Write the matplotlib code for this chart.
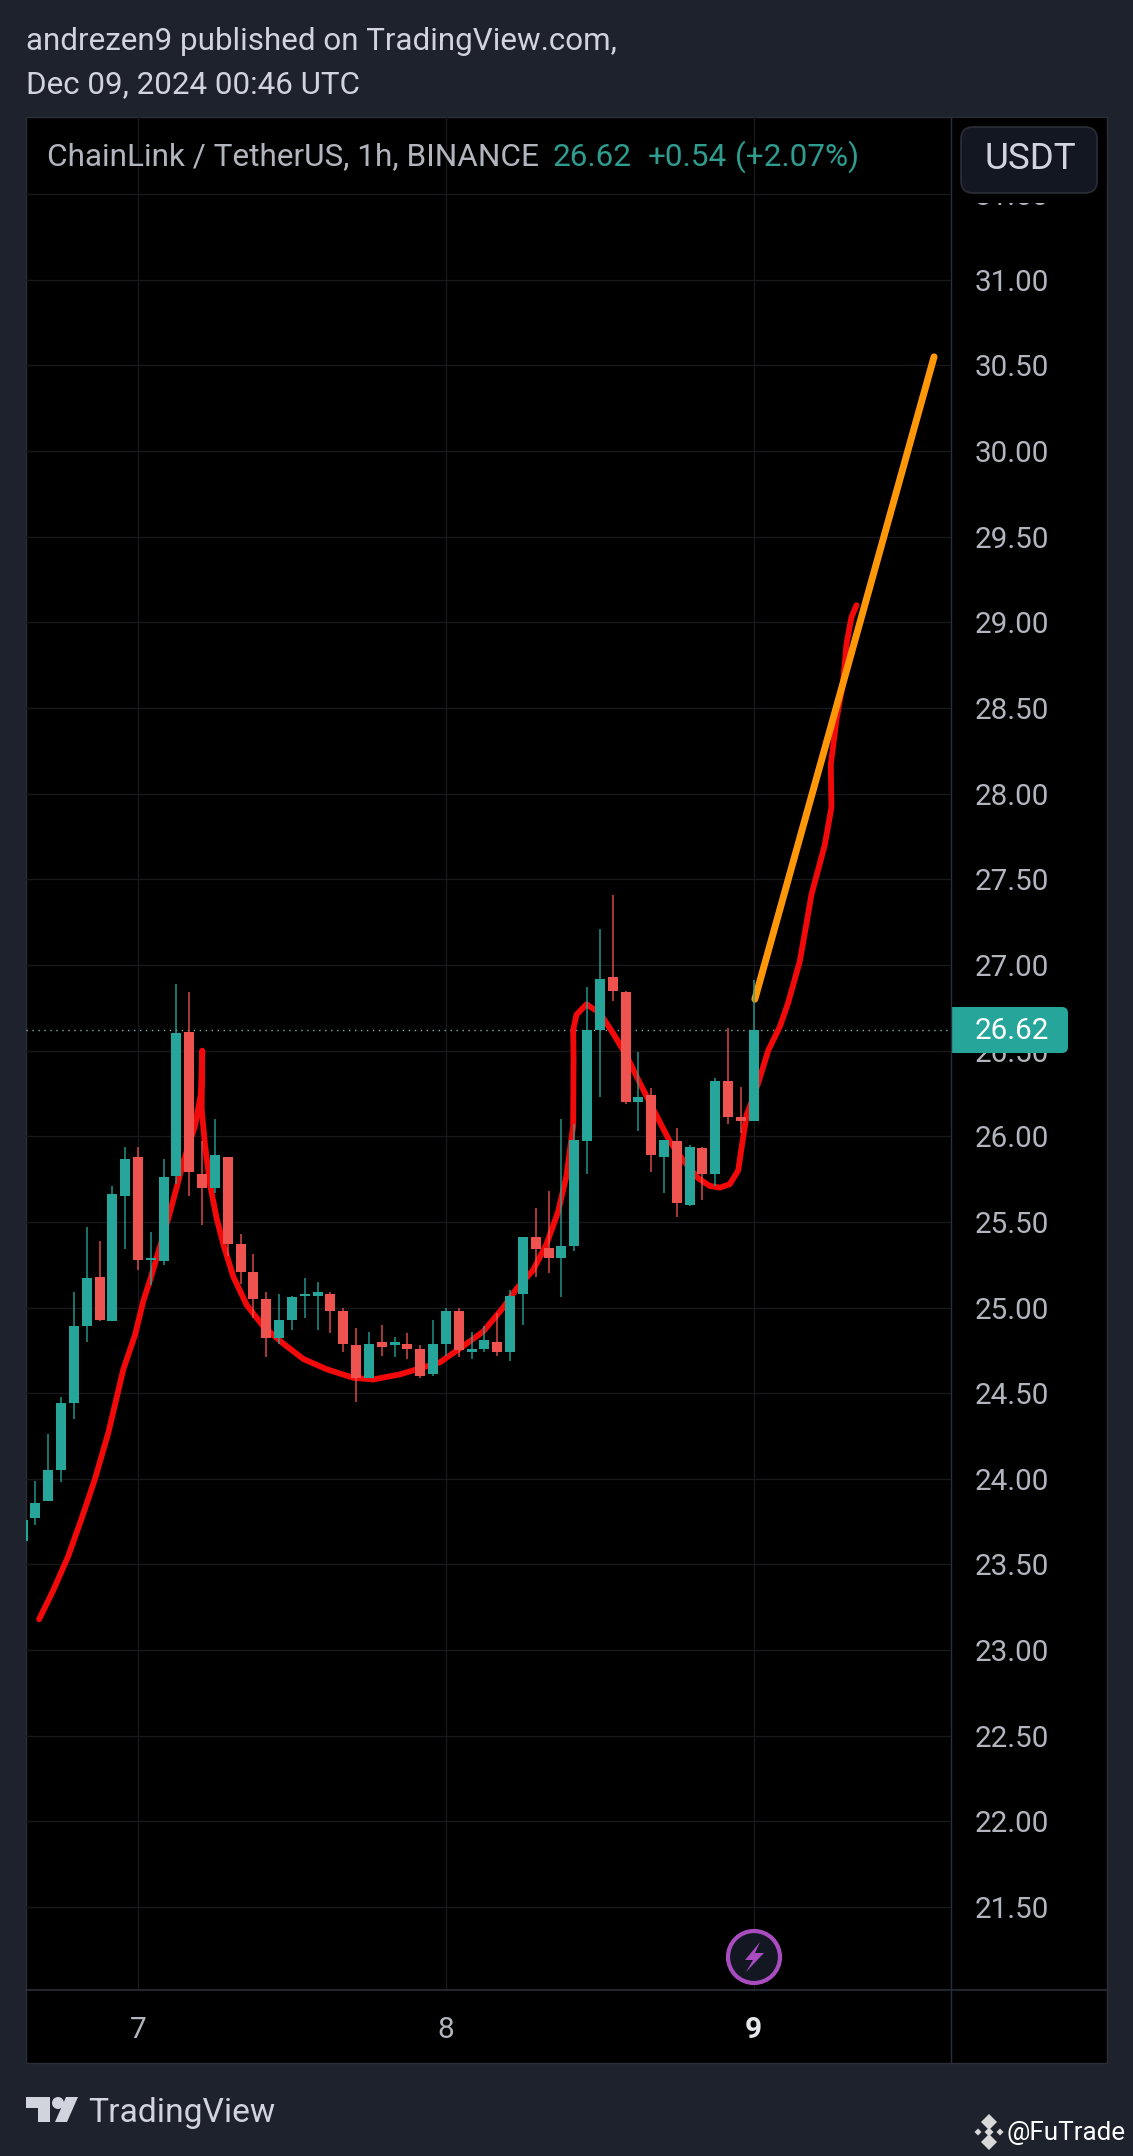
import matplotlib
matplotlib.use("Agg")
import matplotlib.pyplot as plt
from matplotlib.patches import FancyBboxPatch, Rectangle, Circle, Polygon

# ---------- data ----------
hours = list(range(-9, 49))
opens = [23.64, 23.77, 23.87, 24.05, 24.44, 24.89, 25.18, 24.92, 25.65, 25.88,
         25.28, 25.27, 25.77, 26.61, 25.78, 25.70, 25.88, 25.37, 25.21, 25.05,
         24.82, 24.93, 25.07, 25.07, 25.08, 24.98, 24.78, 24.59, 24.80, 24.78,
         24.79, 24.76, 24.61, 24.79, 24.98, 24.74, 24.76, 24.80, 24.74, 25.08,
         25.41, 25.35, 25.29, 25.36, 25.97, 26.62, 26.93, 26.84, 26.20, 26.24,
         25.88, 25.97, 25.60, 25.93, 25.78, 26.32, 26.11, 26.09]
highs = [23.76, 23.99, 24.26, 24.48, 25.09, 25.47, 25.39, 25.71, 25.94, 25.94,
         25.44, 25.87, 26.89, 26.84, 25.97, 26.10, 25.88, 25.43, 25.31, 25.09,
         25.08, 25.07, 25.17, 25.15, 25.09, 25.00, 24.88, 24.86, 24.90, 24.83,
         24.85, 24.78, 24.93, 25.00, 25.00, 24.86, 24.89, 24.97, 25.10, 25.41,
         25.58, 25.68, 26.10, 26.07, 26.87, 27.21, 27.41, 26.85, 26.49, 26.28,
         25.98, 26.05, 25.95, 25.94, 26.34, 26.63, 26.29, 26.91]
lows = [23.64, 23.73, 23.87, 23.98, 24.35, 24.80, 24.92, 24.92, 25.34, 25.22,
        25.13, 25.25, 25.72, 25.65, 25.48, 25.67, 25.30, 25.14, 24.94, 24.71,
        24.79, 24.87, 24.94, 24.87, 24.85, 24.74, 24.45, 24.59, 24.72, 24.71,
        24.70, 24.59, 24.60, 24.72, 24.71, 24.70, 24.74, 24.72, 24.69, 24.90,
        25.18, 25.20, 25.06, 25.33, 25.78, 26.23, 26.79, 26.19, 26.03, 25.79,
        25.67, 25.53, 25.59, 25.63, 25.71, 26.07, 26.02, 26.09]
closes = [23.76, 23.86, 24.05, 24.44, 24.89, 25.17, 24.93, 25.66, 25.87, 25.28,
          25.29, 25.76, 26.60, 25.79, 25.70, 25.89, 25.37, 25.21, 25.05, 24.82,
          24.93, 25.06, 25.08, 25.09, 24.98, 24.79, 24.59, 24.79, 24.77, 24.80,
          24.76, 24.60, 24.79, 24.98, 24.75, 24.76, 24.81, 24.74, 25.07, 25.41,
          25.34, 25.29, 25.36, 25.98, 26.62, 26.92, 26.85, 26.20, 26.23, 25.89,
          25.98, 25.61, 25.94, 25.78, 26.32, 26.11, 26.09, 26.62]

curve_h = [-7.71, -6.60, -5.43, -4.39, -3.35, -2.31, -1.14, -0.23, 0.42, 0.94, 2.36, 3.01,
           3.53, 4.44, 4.91, 5.01, 4.96, 5.22, 5.61, 6.13, 6.65, 7.43, 8.47, 9.77, 11.32,
           12.88, 14.70, 16.78, 18.34, 20.42, 23.53, 25.35, 26.91, 28.47, 29.51, 30.81,
           31.84, 32.75, 33.40, 33.92, 33.95, 33.92, 34.18, 34.96, 36.00, 37.04, 38.08,
           39.12, 40.42, 41.45, 42.49, 43.66, 44.57, 45.35, 46.13, 46.78, 47.04, 47.43,
           48.34, 49.12, 50.03, 50.68, 51.58, 52.10, 52.49, 53.53, 54.05, 54.00, 54.44,
           54.96, 55.22, 55.61, 56.00]
curve_p = [23.18, 23.35, 23.55, 23.77, 24.00, 24.27, 24.64, 24.84, 25.04, 25.16, 25.52, 25.70,
           25.85, 26.06, 26.25, 26.50, 26.16, 25.95, 25.72, 25.52, 25.37, 25.18, 25.015, 24.89, 24.79,
           24.70, 24.64, 24.59, 24.58, 24.61, 24.68, 24.775, 24.86, 25.00, 25.11, 25.22,
           25.37, 25.56, 25.77, 26.06, 26.45, 26.62, 26.71, 26.77, 26.72, 26.60, 26.47,
           26.31, 26.12, 25.97, 25.86, 25.755, 25.71, 25.70, 25.72, 25.80, 25.93, 26.12,
           26.31, 26.50, 26.64, 26.78, 27.02, 27.24, 27.41, 27.70, 27.92, 28.17, 28.43,
           28.65, 28.87, 29.03, 29.10]

arrow_h = [48.08, 62.05]
arrow_p = [26.80, 30.55]

last_price = 26.62
price_ticks = [21.5, 22.0, 22.5, 23.0, 23.5, 24.0, 24.5, 25.0, 25.5, 26.0, 26.5, 27.0,
               27.5, 28.0, 28.5, 29.0, 29.5, 30.0, 30.5, 31.0, 31.5]
day_ticks = [0, 24, 48]
day_labels = ['7', '8', '9']

# ---------- colours ----------
BG = '#1e222d'
UP = '#26a69a'
DOWN = '#ef5350'
GRID = '#17181b'
EDGE = '#2a2e39'
AXTXT = '#b2b5be'
HEAD = '#d1d4dc'

plt.rcParams['font.family'] = ['Roboto', 'DejaVu Sans']

W, H = 1133, 2156
fig = plt.figure(figsize=(W / 100, H / 100), dpi=100, facecolor=BG)


def rect(l, t, r, b):
    return [l / W, 1 - b / H, (r - l) / W, (b - t) / H]


def pixel_axes(z):
    a = fig.add_axes([0, 0, 1, 1], zorder=z)
    a.set_xlim(0, W)
    a.set_ylim(H, 0)
    a.axis('off')
    a.patch.set_alpha(0)
    return a


under = pixel_axes(0)
under.add_patch(Rectangle((26, 117), 1081, 1946, fc='black', ec=EDGE, lw=1))

ax = fig.add_axes(rect(26, 117, 951, 1990), zorder=1, facecolor='none')
ax.set_xlim(-8.73, 63.37)
ax.set_ylim(21.016, 31.95)
for s in ax.spines.values():
    s.set_visible(False)
ax.set_axisbelow(True)
ax.grid(True, color=GRID, lw=1.0)
ax.set_xticks(day_ticks)
ax.set_xticklabels(day_labels, fontsize=21.5, color=AXTXT)
ax.xaxis.get_ticklabels()[2].set_color('#e4e6ec')
ax.xaxis.get_ticklabels()[2].set_fontweight('bold')
ax.set_yticks(price_ticks)
ax.set_yticklabels([f'{t:.2f}' for t in price_ticks], fontsize=21.3, color=AXTXT)
ax.yaxis.tick_right()
ax.tick_params(axis='y', length=0, pad=17)
ax.tick_params(axis='x', length=0, pad=19)

ax.plot(curve_h, curve_p, color='#f20a0a', lw=4.2, solid_capstyle='round',
        solid_joinstyle='round', zorder=2)
ax.plot(arrow_h, arrow_p, color='#ff9808', lw=5.0, solid_capstyle='round', zorder=2.5)

for h, o, hi, lo, c in zip(hours, opens, highs, lows, closes):
    col = UP if c >= o else DOWN
    ax.vlines(h, lo, hi, color=col, lw=1.3, alpha=0.75, zorder=3)
    ax.bar(h, abs(c - o), bottom=min(o, c), width=0.78, color=col, lw=0, zorder=3.2)

ax.axhline(last_price, color='#7fb5ae', lw=1.0, ls=(0, (1, 3.3)), zorder=1.5)

over = pixel_axes(2)
# frame lines of the panes
over.plot([951, 951], [117, 2063], color=EDGE, lw=1)
over.plot([26, 1107], [1990, 1990], color=EDGE, lw=1.2)
# top mask of the price scale and currency button
over.add_patch(Rectangle((952, 118), 154, 85, fc='black', ec='none'))
over.add_patch(FancyBboxPatch((969, 135), 120, 50, boxstyle='round,pad=8,rounding_size=12',
                              fc='#131722', ec=EDGE, lw=1.2))
over.text(1030, 159, 'USDT', fontsize=26.5, color=HEAD, ha='center', va='center')

# last-price tag, square on the pane side and rounded on the outer side
tag = FancyBboxPatch((945, 1012), 118, 36, boxstyle='round,pad=5,rounding_size=6',
                     fc=UP, ec='none')
over.add_patch(tag)
tag.set_clip_path(Rectangle((952, 1000), 130, 60, transform=over.transData))
over.text(975, 1031, '26.62', fontsize=21.3, color='white', ha='left', va='center')

# titles
over.text(26, 42, 'andrezen9 published on TradingView.com,', fontsize=22.6, color=HEAD,
          ha='left', va='center')
over.text(26, 85, 'Dec 09, 2024 00:46 UTC', fontsize=22.6, color=HEAD, ha='left', va='center')
over.text(47, 157, 'ChainLink / TetherUS, 1h, BINANCE', fontsize=22.7, color=AXTXT,
          ha='left', va='center')
for x, s in [(553, '26.62'), (648, '+0.54'), (735, '(+2.07%)')]:
    over.text(x, 157, s, fontsize=22.7, color='#2f9c90', ha='left', va='center')

# alert icon
over.add_patch(Circle((754, 1957), 26, fc='#131722', ec='#a84cc0', lw=3))
over.add_patch(Polygon([(760, 1942), (745, 1960), (753, 1960), (746, 1972), (764, 1953), (755, 1953)],
                       fc='#a84cc0', ec='none'))

# footer
over.add_patch(Polygon([(26, 2097), (50, 2097), (50, 2122), (38, 2122), (38, 2108), (26, 2108)],
                       fc=HEAD, ec='none'))
over.add_patch(Circle((58, 2103), 6, fc=HEAD, ec='none'))
over.add_patch(Polygon([(66, 2097), (78, 2097), (67, 2122), (55, 2122)], fc=HEAD, ec='none'))
over.text(88, 2113, 'TradingView', fontsize=24.2, color=HEAD, ha='left', va='center')

cx, cy = 989, 2132
for dx, dy, r in [(0, -10, 8), (0, 10, 8), (-11, 0, 3.5), (11, 0, 3.5), (0, 0, 4.5)]:
    over.add_patch(Polygon([(cx + dx, cy + dy - r), (cx + dx + r, cy + dy),
                            (cx + dx, cy + dy + r), (cx + dx - r, cy + dy)],
                           fc='#d8d8d8', ec='none'))
over.text(1007, 2133, '@FuTrade', fontsize=18.7, color='white', ha='left', va='center')

fig.savefig('out.png', dpi=100, facecolor=BG)
